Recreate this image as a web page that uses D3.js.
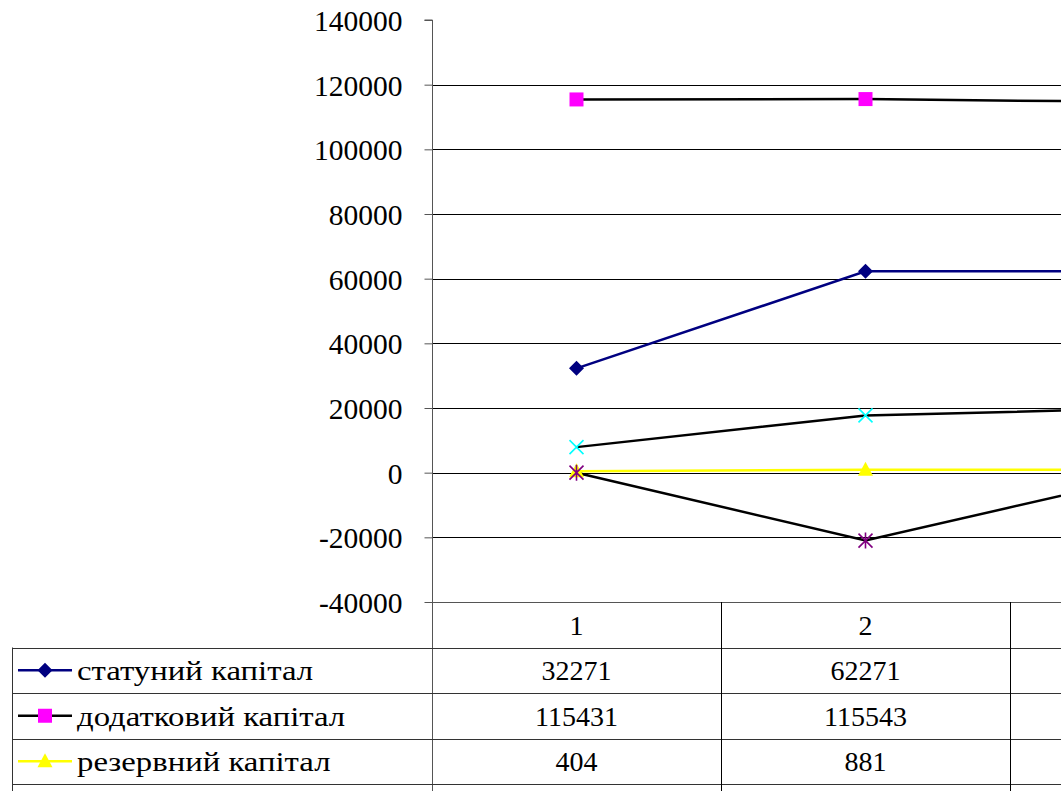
<!DOCTYPE html>
<html>
<head>
<meta charset="utf-8">
<script src="https://cdn.jsdelivr.net/npm/d3@7"></script>
<style>
  body { margin: 0; background: #fff; }
  svg { display: block; overflow: hidden; }
</style>
</head>
<body>
<div id="chart"></div>
<script>
'use strict';

var categories = ['1', '2', '3'];
var yTicks = [-40000, -20000, 0, 20000, 40000, 60000, 80000, 100000, 120000, 140000];

var statutory = [32271, 62271, 62271];
var additional = [115431, 115543, 114620];
var reserve = [404, 881, 950];
var retained = [7900, 17700, 19900];
var unpaid = [0, -21000, -500];

var series = [
  { name: 'статуний капітал', values: statutory, line: '#000080', marker: 'diamond', fill: '#000080' },
  { name: 'додатковий капітал', values: additional, line: '#000000', marker: 'square', fill: '#ff00ff' },
  { name: 'резервний капітал', values: reserve, line: '#ffff00', marker: 'triangle', fill: '#ffff00' },
  { name: 'нерозподілений прибуток', values: retained, line: '#000000', marker: 'cross', fill: '#00ffff' },
  { name: 'неоплачений капітал', values: unpaid, line: '#000000', marker: 'star', fill: '#800080' }
];

var FONT = '"Liberation Serif", "Times New Roman", serif';
var width = 1061, height = 791;
var plotLeft = 432, plotTop = 20, plotBottom = 602;
var rowH = 45.5, legendLeft = 12;

var svg = d3.select('#chart')
    .append('svg')
    .attr('width', width)
    .attr('height', height);

var x = d3.scaleBand()
    .domain(categories)
    .range([plotLeft, plotLeft + 3 * 289]);

var y = d3.scaleLinear()
    .domain([-40000, 140000])
    .range([plotBottom, plotTop]);

function cx(i) { return x(categories[i]) + x.bandwidth() / 2; }

function label(g, tx, ty, str, anchor) {
  // only texts that fall inside the visible picture
  if (tx > width || ty > height) return null;
  return g.append('text')
      .attr('x', tx)
      .attr('y', ty)
      .attr('dy', '0.35em')
      .attr('text-anchor', anchor || 'middle')
      .style('font-family', FONT)
      .style('font-size', '28px')
      .style('fill', '#000')
      .text(str);
}

// gridlines
svg.append('g')
    .selectAll('line')
    .data(yTicks.filter(function (d) { return d > -40000 && d < 140000; }))
    .enter()
    .append('line')
    .attr('x1', plotLeft)
    .attr('x2', x.range()[1])
    .attr('y1', function (d) { return Math.round(y(d)) + 0.5; })
    .attr('y2', function (d) { return Math.round(y(d)) + 0.5; })
    .attr('stroke', '#000')
    .attr('stroke-width', 1);

// y axis
var axis = svg.append('g')
    .attr('transform', 'translate(' + (plotLeft + 0.5) + ',0)')
    .call(d3.axisLeft(y)
        .tickValues(yTicks)
        .tickSize(8)
        .tickPadding(22)
        .tickFormat(function (d) { return String(d); }));
axis.select('.domain').attr('stroke', '#555').attr('d', 'M-8,' + plotTop + 'H0V' + height);
axis.selectAll('.tick line').attr('stroke', '#555');
axis.selectAll('.tick text')
    .attr('dy', '0.36em')
    .style('font-family', FONT)
    .style('font-size', '29.5px')
    .style('fill', '#000');

// data table
var table = svg.append('g');
table.append('line')
    .attr('x1', plotLeft).attr('x2', x.range()[1])
    .attr('y1', plotBottom + 0.5).attr('y2', plotBottom + 0.5)
    .attr('stroke', '#555');

var rowTops = series.map(function (s, i) { return plotBottom + rowH * (i + 1); });
table.selectAll('.hrow')
    .data(rowTops.concat([plotBottom + rowH * (series.length + 1)]))
    .enter()
    .append('line')
    .attr('x1', legendLeft)
    .attr('x2', x.range()[1])
    .attr('y1', function (d) { return Math.round(d) + 0.5; })
    .attr('y2', function (d) { return Math.round(d) + 0.5; })
    .attr('stroke', '#333');

table.append('line')
    .attr('x1', legendLeft + 0.5).attr('x2', legendLeft + 0.5)
    .attr('y1', rowTops[0]).attr('y2', height)
    .attr('stroke', '#333');

table.selectAll('.vcol')
    .data(categories.slice(1))
    .enter()
    .append('line')
    .attr('x1', function (d) { return x(d) + 0.5; })
    .attr('x2', function (d) { return x(d) + 0.5; })
    .attr('y1', plotBottom)
    .attr('y2', height)
    .attr('stroke', '#000');

categories.forEach(function (c, i) {
  label(table, cx(i), plotBottom + rowH / 2, c);
});

function markerPath(type) {
  switch (type) {
    case 'diamond': return 'M0,-7.5L7.5,0L0,7.5L-7.5,0Z';
    case 'square': return 'M-7,-7H7V7H-7Z';
    case 'triangle': return 'M0,-8L7.5,6H-7.5Z';
    case 'cross': return 'M-7,-7L7,7M7,-7L-7,7';
    case 'star': return 'M-7,-7L7,7M7,-7L-7,7M0,-8V8';
  }
}

function drawMarker(g, s) {
  var p = g.append('path').attr('d', markerPath(s.marker));
  if (s.marker === 'cross' || s.marker === 'star') {
    p.attr('fill', 'none').attr('stroke', s.fill).attr('stroke-width', 1.6);
  } else {
    p.attr('fill', s.fill);
  }
}

var line = d3.line()
    .x(function (d, i) { return cx(i); })
    .y(function (d) { return y(d); });

series.forEach(function (s, k) {
  var mid = rowTops[k] + rowH / 2;
  if (mid > height) return;
  var row = table.append('g');
  row.append('line')
      .attr('x1', 18).attr('x2', 72)
      .attr('y1', mid).attr('y2', mid)
      .attr('stroke', s.line)
      .attr('stroke-width', 2.5);
  drawMarker(row.append('g').attr('transform', 'translate(45,' + mid + ')'), s);
  var t = label(row, 77, mid, s.name, 'start');
  // the legend names in the picture run a little wider than the font
  var w = t.node().getComputedTextLength();
  t.attr('textLength', w * 1.17).attr('lengthAdjust', 'spacingAndGlyphs');
  s.values.forEach(function (v, i) {
    label(row, cx(i), mid, v);
  });
});

// series lines and markers
var plot = svg.append('g');
series.forEach(function (s) {
  plot.append('path')
      .datum(s.values)
      .attr('d', line)
      .attr('fill', 'none')
      .attr('stroke', s.line)
      .attr('stroke-width', 2.5);
});
series.forEach(function (s) {
  s.values.forEach(function (v, i) {
    drawMarker(plot.append('g').attr('transform', 'translate(' + cx(i) + ',' + y(v) + ')'), s);
  });
});
</script>
</body>
</html>
